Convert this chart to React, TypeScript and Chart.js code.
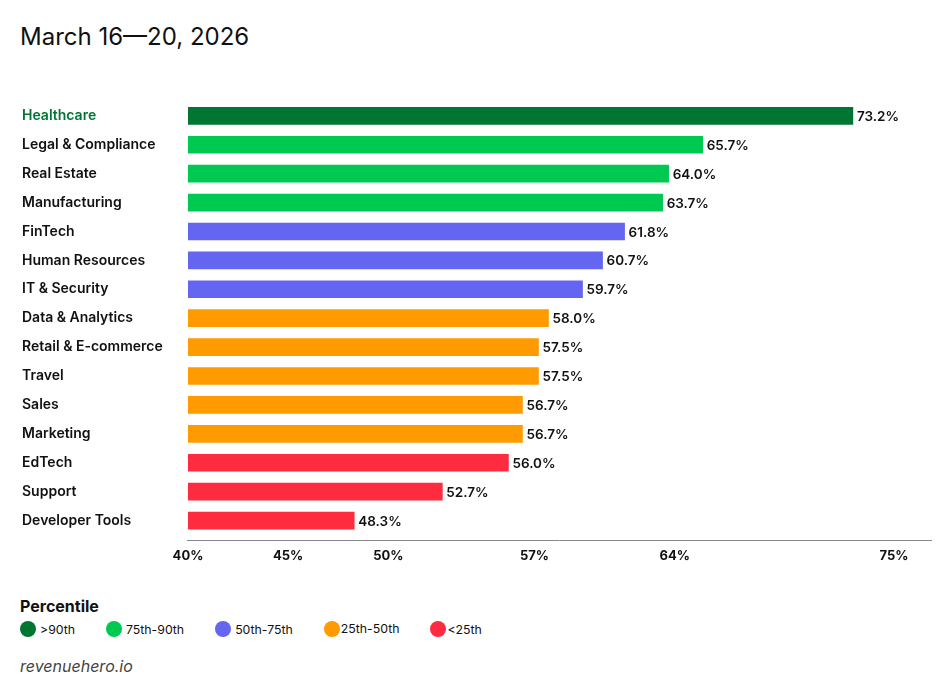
import React, { useEffect, useRef } from "react";
import { Chart, registerables } from "chart.js";

Chart.register(...registerables);

const categories = [
  "Healthcare",
  "Legal & Compliance",
  "Real Estate",
  "Manufacturing",
  "FinTech",
  "Human Resources",
  "IT & Security",
  "Data & Analytics",
  "Retail & E-commerce",
  "Travel",
  "Sales",
  "Marketing",
  "EdTech",
  "Support",
  "Developer Tools",
];

const values = [73.2, 65.7, 64.0, 63.7, 61.8, 60.7, 59.7, 58.0, 57.5, 57.5, 56.7, 56.7, 56.0, 52.7, 48.3];

// percentile group index per category: 0 >90th, 1 75-90, 2 50-75, 3 25-50, 4 <25
const groups = [0, 1, 1, 1, 2, 2, 2, 3, 3, 3, 3, 3, 4, 4, 4];

const groupLabels = [">90th", "75th-90th", "50th-75th", "25th-50th", "<25th"];
const groupColors = ["#017532", "#00C951", "#6466F1", "#FF9A00", "#FF2B3E"];

const tickValues = [40, 45, 50, 57.3, 64.3, 75.25];
const tickLabels = ["40%", "45%", "50%", "57%", "64%", "75%"];

const FONT = "Inter, 'Noto Sans', sans-serif";

export default function App() {
  const canvasRef = useRef<HTMLCanvasElement | null>(null);

  useEffect(() => {
    document.body.style.margin = "0";
    const canvas = canvasRef.current;
    if (!canvas) return;

    const valueLabels = {
      id: "valueLabels",
      afterDatasetsDraw(chart: any) {
        const ctx = chart.ctx;
        const meta = chart.getDatasetMeta(0);
        ctx.save();
        ctx.font = `600 13.5px ${FONT}`;
        ctx.fillStyle = "#111111";
        ctx.textAlign = "left";
        ctx.textBaseline = "middle";
        meta.data.forEach((bar: any, i: number) => {
          ctx.fillText(values[i].toFixed(1) + "%", bar.x + 4, bar.y + 1);
        });
        ctx.restore();
      },
    };

    const axisLine = {
      id: "axisLine",
      afterDraw(chart: any) {
        const { ctx, chartArea } = chart;
        ctx.save();
        ctx.strokeStyle = "#8a8a8a";
        ctx.lineWidth = 1;
        ctx.beginPath();
        const y = Math.round(chartArea.bottom + 5) + 0.5;
        ctx.moveTo(chartArea.left - 1, y);
        ctx.lineTo(chartArea.right, y);
        ctx.stroke();
        ctx.restore();
      },
    };

    const chart = new Chart(canvas, {
      type: "bar",
      data: {
        labels: categories,
        datasets: [
          {
            data: values,
            backgroundColor: groups.map((g) => groupColors[g]),
            barThickness: 17,
            borderWidth: 0,
          },
        ],
      },
      options: {
        indexAxis: "y",
        animation: false,
        responsive: false,
        maintainAspectRatio: false,
        layout: { padding: { top: 10, right: 0, bottom: 0, left: 0 } },
        plugins: {
          legend: { display: false },
          tooltip: { enabled: false },
        },
        scales: {
          x: {
            type: "linear",
            min: 40,
            max: 77.15,
            beginAtZero: false,
            grid: { display: false, drawTicks: false },
            border: { display: false },
            afterBuildTicks: (scale: any) => {
              scale.ticks = tickValues.map((v) => ({ value: v }));
            },
            afterFit: (scale: any) => {
              scale.height = 30;
            },
            ticks: {
              autoSkip: false,
              maxRotation: 0,
              padding: 13,
              color: "#111111",
              font: { family: FONT, size: 13, weight: "bold" },
              callback: (_v: any, i: number) => tickLabels[i],
            },
          },
          y: {
            grid: { display: false, drawTicks: false },
            border: { display: false },
            afterFit: (scale: any) => {
              scale.width = 166;
            },
            ticks: {
              crossAlign: "far",
              autoSkip: false,
              color: (c: any) => (c.index === 0 ? groupColors[0] : "#111111"),
              font: { family: FONT, size: 14, weight: 600 },
            },
          },
        },
      },
      plugins: [valueLabels, axisLine],
    });

    return () => chart.destroy();
  }, []);

  return (
    <div style={{ position: "relative", width: 952, height: 700, fontFamily: FONT, background: "#fff" }}>
      <div
        style={{
          position: "absolute",
          left: 20,
          top: 25,
          fontSize: 24,
          lineHeight: "24px",
          color: "#111",
          fontWeight: 400,
          whiteSpace: "nowrap",
        }}
      >
        March 16—20, 2026
      </div>
      <canvas
        ref={canvasRef}
        width={910}
        height={475}
        style={{ position: "absolute", left: 22, top: 90, width: 910, height: 475 }}
      />
      <div
        style={{
          position: "absolute",
          left: 20,
          top: 597,
          fontSize: 16,
          lineHeight: "18px",
          fontWeight: 700,
          color: "#111",
        }}
      >
        Percentile
      </div>
      <div
        style={{
          position: "absolute",
          left: 20,
          top: 621,
          display: "flex",
          alignItems: "center",
          gap: 31,
          fontSize: 12.3,
          color: "#111",
        }}
      >
        {groupLabels.map((g, i) => (
          <div key={g} style={{ display: "flex", alignItems: "center" }}>
            <span
              style={{
                width: 16,
                height: 16,
                borderRadius: "50%",
                background: groupColors[i],
                display: "inline-block",
              }}
            />
            <span style={{ marginLeft: i >= 3 ? 1 : 4, position: "relative", top: i === 3 ? -1 : 0 }}>{g}</span>
          </div>
        ))}
      </div>
      <div
        style={{
          position: "absolute",
          left: 20,
          top: 656,
          fontSize: 16,
          lineHeight: "20px",
          fontStyle: "italic",
          color: "#444",
        }}
      >
        revenuehero.io
      </div>
    </div>
  );
}
